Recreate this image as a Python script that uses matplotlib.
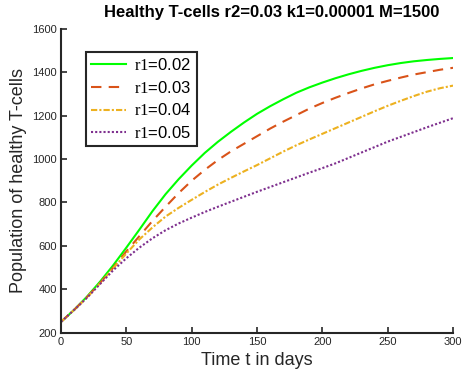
import matplotlib.pyplot as plt

plt.rcParams["font.family"] = ["Liberation Sans", "DejaVu Sans"]
plt.rcParams["mathtext.fontset"] = "custom"
plt.rcParams["mathtext.rm"] = "Liberation Sans"
plt.rcParams["mathtext.sf"] = "Liberation Serif"

# values, every 10 days
t = list(range(0, 301, 10))
r1_002 = [250, 305, 367, 436, 511, 592, 675, 760, 838, 907, 970, 1028, 1079, 1125, 1168, 1208,
          1243, 1275, 1305, 1330, 1352, 1372, 1390, 1406, 1420, 1432, 1442, 1450, 1456, 1461, 1465]
r1_003 = [250, 305, 365, 430, 500, 575, 645, 715, 780, 843, 900, 950, 995, 1035, 1070, 1105,
          1140, 1172, 1202, 1232, 1258, 1282, 1304, 1325, 1344, 1360, 1375, 1389, 1400, 1411, 1420]
r1_004 = [250, 305, 363, 428, 497, 565, 630, 685, 735, 775, 812, 848, 882, 913, 943, 972,
          1003, 1034, 1063, 1090, 1116, 1142, 1168, 1194, 1220, 1245, 1268, 1290, 1310, 1326, 1338]
r1_005 = [250, 305, 362, 425, 488, 543, 592, 635, 672, 703, 730, 756, 780, 803, 826, 849,
          871, 893, 915, 937, 958, 980, 1005, 1030, 1055, 1080, 1102, 1124, 1146, 1167, 1188]

labels = [r"$\mathsf{r1}$=0.02", r"$\mathsf{r1}$=0.03", r"$\mathsf{r1}$=0.04", r"$\mathsf{r1}$=0.05"]
colors = ["#00ff00", "#d95319", "#edb120", "#7e2f8e"]
styles = ["-", (0, (5, 3.5)), (0, (3, 1, 1, 1)), (0, (1, 1))]

fig = plt.figure(figsize=(4.63, 3.83), dpi=100)
ax = fig.add_axes([0.1318, 0.1313, 0.8467, 0.7937])
for ys, label, color, ls in zip([r1_002, r1_003, r1_004, r1_005], labels, colors, styles):
    ax.plot(t, ys, color=color, linestyle=ls, linewidth=1.5, label=label)

ax.set_xlim(0, 300)
ax.set_ylim(200, 1600)
ax.set_xticks(range(0, 301, 50))
ax.set_yticks(range(200, 1601, 200))
for side in ("top", "right"):
    ax.spines[side].set_visible(False)
for side in ("left", "bottom"):
    ax.spines[side].set_linewidth(1.5)
    ax.spines[side].set_color("#262626")
ax.tick_params(direction="in", length=4, width=1.2, color="#262626",
               labelsize=8, labelcolor="#262626", pad=3)

ax.set_xlabel("Time t in days", fontsize=13, color="#262626", labelpad=4)
ax.set_ylabel("Population of healthy T-cells", fontsize=13, color="#262626", labelpad=4)
fig.text(272 / 463, 1 - 12 / 383, "Healthy T-cells r2=0.03 k1=0.00001 M=1500",
         fontsize=12, fontweight="bold", ha="center", va="center")

leg = ax.legend(loc="upper left", bbox_to_anchor=(0.0638, 0.923), fontsize=12,
                fancybox=False, framealpha=1, edgecolor="#262626",
                handlelength=2.1, handletextpad=0.5, borderpad=0.3,
                borderaxespad=0, labelspacing=0.4)
leg.get_frame().set_linewidth(1.5)

fig.savefig("out.png", dpi=100)
